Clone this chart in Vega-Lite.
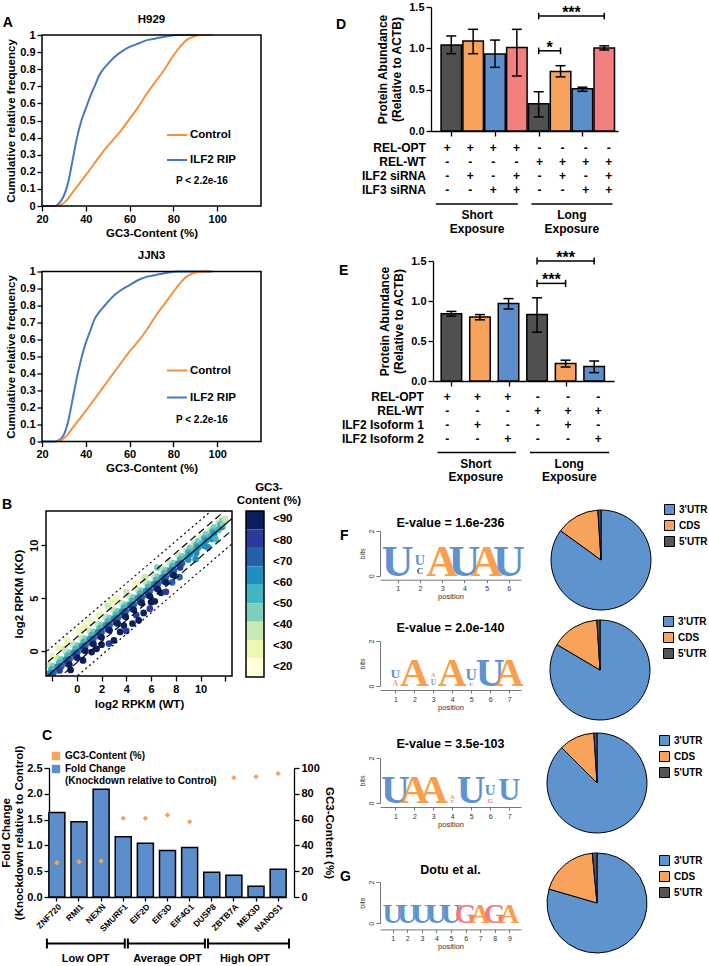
{
"$schema": "https://vega.github.io/schema/vega-lite/v6.json",
"padding": {"left": 0, "top": 1, "right": 2, "bottom": 2},
"background": "white",
"config": {
 "font": "Liberation Sans",
 "view": {"stroke": null},
 "axis": {"grid": false, "labelFlush": false, "labelOverlap": false, "labelSeparation": -200, "domainColor": "black", "tickColor": "black", "labelColor": "black", "titleColor": "black", "labelFont": "Liberation Sans", "titleFont": "Liberation Sans", "labelFontWeight": "bold", "titleFontWeight": "bold", "labelFontSize": 11, "titleFontSize": 11.5, "domainWidth": 1.3, "tickWidth": 1.3, "tickSize": 5},
 "axisX": {"labelOverlap": false, "labelSeparation": -200},
 "axisY": {"labelOverlap": false, "labelSeparation": -200},
 "title": {"font": "Liberation Sans", "fontWeight": "bold", "color": "black"},
 "legend": {"labelFont": "Liberation Sans", "labelFontWeight": "bold", "labelColor": "black"},
 "text": {"font": "Liberation Sans", "color": "black"}
},
"datasets": {
 "cdf": [
  {"p":"H929","s":"ILF2 RIP","x":20,"y":0},{"p":"H929","s":"ILF2 RIP","x":26,"y":0},{"p":"H929","s":"ILF2 RIP","x":28,"y":0.02},{"p":"H929","s":"ILF2 RIP","x":30,"y":0.06},{"p":"H929","s":"ILF2 RIP","x":32,"y":0.14},{"p":"H929","s":"ILF2 RIP","x":34,"y":0.27},{"p":"H929","s":"ILF2 RIP","x":36,"y":0.4},{"p":"H929","s":"ILF2 RIP","x":38,"y":0.5},{"p":"H929","s":"ILF2 RIP","x":40,"y":0.57},{"p":"H929","s":"ILF2 RIP","x":42,"y":0.64},{"p":"H929","s":"ILF2 RIP","x":44,"y":0.7},{"p":"H929","s":"ILF2 RIP","x":46,"y":0.76},{"p":"H929","s":"ILF2 RIP","x":48,"y":0.8},{"p":"H929","s":"ILF2 RIP","x":50,"y":0.83},{"p":"H929","s":"ILF2 RIP","x":53,"y":0.87},{"p":"H929","s":"ILF2 RIP","x":56,"y":0.9},{"p":"H929","s":"ILF2 RIP","x":60,"y":0.93},{"p":"H929","s":"ILF2 RIP","x":64,"y":0.95},{"p":"H929","s":"ILF2 RIP","x":68,"y":0.97},{"p":"H929","s":"ILF2 RIP","x":72,"y":0.98},{"p":"H929","s":"ILF2 RIP","x":76,"y":0.99},{"p":"H929","s":"ILF2 RIP","x":82,"y":1},{"p":"H929","s":"ILF2 RIP","x":97,"y":1},
  {"p":"H929","s":"Control","x":27,"y":0},{"p":"H929","s":"Control","x":29,"y":0.01},{"p":"H929","s":"Control","x":31,"y":0.03},{"p":"H929","s":"Control","x":34,"y":0.08},{"p":"H929","s":"Control","x":37,"y":0.13},{"p":"H929","s":"Control","x":40,"y":0.18},{"p":"H929","s":"Control","x":44,"y":0.25},{"p":"H929","s":"Control","x":48,"y":0.32},{"p":"H929","s":"Control","x":52,"y":0.38},{"p":"H929","s":"Control","x":56,"y":0.44},{"p":"H929","s":"Control","x":60,"y":0.51},{"p":"H929","s":"Control","x":64,"y":0.58},{"p":"H929","s":"Control","x":68,"y":0.66},{"p":"H929","s":"Control","x":72,"y":0.73},{"p":"H929","s":"Control","x":76,"y":0.8},{"p":"H929","s":"Control","x":80,"y":0.88},{"p":"H929","s":"Control","x":83,"y":0.93},{"p":"H929","s":"Control","x":86,"y":0.97},{"p":"H929","s":"Control","x":89,"y":0.99},{"p":"H929","s":"Control","x":93,"y":1},{"p":"H929","s":"Control","x":98,"y":1},
  {"p":"JJN3","s":"ILF2 RIP","x":20,"y":0},{"p":"JJN3","s":"ILF2 RIP","x":26,"y":0},{"p":"JJN3","s":"ILF2 RIP","x":28,"y":0.01},{"p":"JJN3","s":"ILF2 RIP","x":30,"y":0.04},{"p":"JJN3","s":"ILF2 RIP","x":32,"y":0.12},{"p":"JJN3","s":"ILF2 RIP","x":34,"y":0.25},{"p":"JJN3","s":"ILF2 RIP","x":36,"y":0.38},{"p":"JJN3","s":"ILF2 RIP","x":38,"y":0.49},{"p":"JJN3","s":"ILF2 RIP","x":40,"y":0.58},{"p":"JJN3","s":"ILF2 RIP","x":42,"y":0.65},{"p":"JJN3","s":"ILF2 RIP","x":44,"y":0.72},{"p":"JJN3","s":"ILF2 RIP","x":46,"y":0.76},{"p":"JJN3","s":"ILF2 RIP","x":48,"y":0.79},{"p":"JJN3","s":"ILF2 RIP","x":50,"y":0.82},{"p":"JJN3","s":"ILF2 RIP","x":53,"y":0.86},{"p":"JJN3","s":"ILF2 RIP","x":56,"y":0.89},{"p":"JJN3","s":"ILF2 RIP","x":60,"y":0.92},{"p":"JJN3","s":"ILF2 RIP","x":64,"y":0.95},{"p":"JJN3","s":"ILF2 RIP","x":68,"y":0.97},{"p":"JJN3","s":"ILF2 RIP","x":72,"y":0.98},{"p":"JJN3","s":"ILF2 RIP","x":76,"y":0.99},{"p":"JJN3","s":"ILF2 RIP","x":82,"y":1},{"p":"JJN3","s":"ILF2 RIP","x":97,"y":1},
  {"p":"JJN3","s":"Control","x":27,"y":0},{"p":"JJN3","s":"Control","x":29,"y":0.01},{"p":"JJN3","s":"Control","x":31,"y":0.03},{"p":"JJN3","s":"Control","x":34,"y":0.08},{"p":"JJN3","s":"Control","x":37,"y":0.13},{"p":"JJN3","s":"Control","x":40,"y":0.18},{"p":"JJN3","s":"Control","x":44,"y":0.25},{"p":"JJN3","s":"Control","x":48,"y":0.32},{"p":"JJN3","s":"Control","x":52,"y":0.39},{"p":"JJN3","s":"Control","x":56,"y":0.46},{"p":"JJN3","s":"Control","x":60,"y":0.53},{"p":"JJN3","s":"Control","x":64,"y":0.59},{"p":"JJN3","s":"Control","x":68,"y":0.66},{"p":"JJN3","s":"Control","x":72,"y":0.74},{"p":"JJN3","s":"Control","x":76,"y":0.81},{"p":"JJN3","s":"Control","x":80,"y":0.88},{"p":"JJN3","s":"Control","x":83,"y":0.93},{"p":"JJN3","s":"Control","x":86,"y":0.97},{"p":"JJN3","s":"Control","x":89,"y":0.99},{"p":"JJN3","s":"Control","x":93,"y":1},{"p":"JJN3","s":"Control","x":98,"y":1}
 ],
 "scatter": [
  {"x":-2.2,"y":-1.35,"g":"<30"},{"x":-1.9,"y":-1.45,"g":"<40"},{"x":-2.05,"y":-1.75,"g":"<50"},{"x":-2.2,"y":-2.15,"g":"<60"},{"x":-1.9,"y":-2.1,"g":"<70"},{"x":-2.05,"y":-2.5,"g":"<80"},
  {"x":-1.55,"y":-0.7,"g":"<30"},{"x":-1.25,"y":-0.8,"g":"<40"},{"x":-1.4,"y":-1.1,"g":"<50"},{"x":-1.55,"y":-1.5,"g":"<60"},{"x":-1.25,"y":-1.45,"g":"<70"},{"x":-1.4,"y":-1.85,"g":"<80"},
  {"x":-0.9,"y":-0.05,"g":"<30"},{"x":-0.6,"y":-0.15,"g":"<40"},{"x":-0.75,"y":-0.45,"g":"<50"},{"x":-0.9,"y":-0.85,"g":"<60"},{"x":-0.6,"y":-0.8,"g":"<70"},{"x":-0.75,"y":-1.2,"g":"<80"},{"x":-0.6,"y":-1.3,"g":"<90"},
  {"x":-0.25,"y":0.6,"g":"<30"},{"x":0.05,"y":0.5,"g":"<40"},{"x":-0.1,"y":0.2,"g":"<50"},{"x":-0.25,"y":-0.2,"g":"<60"},{"x":0.05,"y":-0.15,"g":"<70"},{"x":-0.1,"y":-0.55,"g":"<80"},{"x":0.05,"y":-0.65,"g":"<90"},
  {"x":0.4,"y":1.25,"g":"<30"},{"x":0.7,"y":1.15,"g":"<40"},{"x":0.55,"y":0.85,"g":"<50"},{"x":0.4,"y":0.45,"g":"<60"},{"x":0.7,"y":0.5,"g":"<70"},{"x":0.55,"y":0.1,"g":"<80"},{"x":0.7,"y":0.0,"g":"<90"},
  {"x":1.05,"y":1.9,"g":"<30"},{"x":1.35,"y":1.8,"g":"<40"},{"x":1.2,"y":1.5,"g":"<50"},{"x":1.05,"y":1.1,"g":"<60"},{"x":1.35,"y":1.15,"g":"<70"},{"x":1.2,"y":0.75,"g":"<80"},{"x":1.35,"y":0.65,"g":"<90"},
  {"x":1.7,"y":2.55,"g":"<30"},{"x":2.0,"y":2.45,"g":"<40"},{"x":1.85,"y":2.15,"g":"<50"},{"x":1.7,"y":1.75,"g":"<60"},{"x":2.0,"y":1.8,"g":"<70"},{"x":1.85,"y":1.4,"g":"<80"},{"x":2.0,"y":1.3,"g":"<90"},
  {"x":2.35,"y":3.2,"g":"<30"},{"x":2.65,"y":3.1,"g":"<40"},{"x":2.5,"y":2.8,"g":"<50"},{"x":2.35,"y":2.4,"g":"<60"},{"x":2.65,"y":2.45,"g":"<70"},{"x":2.5,"y":2.05,"g":"<80"},{"x":2.65,"y":1.95,"g":"<90"},
  {"x":3.0,"y":3.85,"g":"<30"},{"x":3.3,"y":3.75,"g":"<40"},{"x":3.15,"y":3.45,"g":"<50"},{"x":3.0,"y":3.05,"g":"<60"},{"x":3.3,"y":3.1,"g":"<70"},{"x":3.15,"y":2.7,"g":"<80"},{"x":3.3,"y":2.6,"g":"<90"},
  {"x":3.65,"y":4.5,"g":"<30"},{"x":3.95,"y":4.4,"g":"<40"},{"x":3.8,"y":4.1,"g":"<50"},{"x":3.65,"y":3.7,"g":"<60"},{"x":3.95,"y":3.75,"g":"<70"},{"x":3.8,"y":3.35,"g":"<80"},{"x":3.95,"y":3.25,"g":"<90"},
  {"x":4.3,"y":5.15,"g":"<30"},{"x":4.6,"y":5.05,"g":"<40"},{"x":4.45,"y":4.75,"g":"<50"},{"x":4.3,"y":4.35,"g":"<60"},{"x":4.6,"y":4.4,"g":"<70"},{"x":4.45,"y":4.0,"g":"<80"},{"x":4.6,"y":3.9,"g":"<90"},
  {"x":4.95,"y":5.8,"g":"<30"},{"x":5.25,"y":5.7,"g":"<40"},{"x":5.1,"y":5.4,"g":"<50"},{"x":4.95,"y":5.0,"g":"<60"},{"x":5.25,"y":5.05,"g":"<70"},{"x":5.1,"y":4.65,"g":"<80"},{"x":5.25,"y":4.55,"g":"<90"},
  {"x":5.6,"y":6.45,"g":"<30"},{"x":5.9,"y":6.35,"g":"<40"},{"x":5.75,"y":6.05,"g":"<50"},{"x":5.6,"y":5.65,"g":"<60"},{"x":5.9,"y":5.7,"g":"<70"},{"x":5.75,"y":5.3,"g":"<80"},{"x":5.9,"y":5.2,"g":"<90"},
  {"x":6.25,"y":7.1,"g":"<30"},{"x":6.55,"y":7.0,"g":"<40"},{"x":6.4,"y":6.7,"g":"<50"},{"x":6.25,"y":6.3,"g":"<60"},{"x":6.55,"y":6.35,"g":"<70"},{"x":6.4,"y":5.95,"g":"<80"},{"x":6.55,"y":5.85,"g":"<90"},
  {"x":6.9,"y":7.75,"g":"<30"},{"x":7.2,"y":7.65,"g":"<40"},{"x":7.05,"y":7.35,"g":"<50"},{"x":6.9,"y":6.95,"g":"<60"},{"x":7.2,"y":7.0,"g":"<70"},{"x":7.05,"y":6.6,"g":"<80"},{"x":7.2,"y":6.5,"g":"<90"},
  {"x":7.55,"y":8.4,"g":"<30"},{"x":7.85,"y":8.3,"g":"<40"},{"x":7.7,"y":8.0,"g":"<50"},{"x":7.55,"y":7.6,"g":"<60"},{"x":7.85,"y":7.65,"g":"<70"},{"x":7.7,"y":7.25,"g":"<80"},{"x":7.85,"y":7.15,"g":"<90"},
  {"x":8.2,"y":9.05,"g":"<30"},{"x":8.5,"y":8.95,"g":"<40"},{"x":8.35,"y":8.65,"g":"<50"},{"x":8.2,"y":8.25,"g":"<60"},{"x":8.5,"y":8.3,"g":"<70"},{"x":8.35,"y":7.9,"g":"<80"},
  {"x":8.85,"y":9.5,"g":"<30"},{"x":9.15,"y":9.75,"g":"<40"},{"x":9.0,"y":9.35,"g":"<50"},{"x":8.85,"y":8.85,"g":"<50"},{"x":9.15,"y":9.15,"g":"<60"},{"x":9.0,"y":8.65,"g":"<60"},
  {"x":9.5,"y":10.15,"g":"<30"},{"x":9.8,"y":10.4,"g":"<40"},{"x":9.65,"y":10.0,"g":"<50"},{"x":9.5,"y":9.5,"g":"<50"},{"x":9.8,"y":9.8,"g":"<60"},{"x":9.65,"y":9.3,"g":"<60"},
  {"x":10.15,"y":10.8,"g":"<30"},{"x":10.45,"y":11.05,"g":"<40"},{"x":10.3,"y":10.65,"g":"<50"},{"x":10.15,"y":10.15,"g":"<50"},{"x":10.45,"y":10.45,"g":"<60"},{"x":10.3,"y":9.95,"g":"<60"},
  {"x":10.8,"y":11.45,"g":"<30"},{"x":11.1,"y":11.7,"g":"<40"},{"x":10.95,"y":11.3,"g":"<50"},{"x":10.8,"y":10.8,"g":"<50"},{"x":11.1,"y":11.1,"g":"<60"},{"x":10.95,"y":10.6,"g":"<60"},
  {"x":11.45,"y":12.1,"g":"<30"},{"x":11.75,"y":12.35,"g":"<40"},{"x":11.6,"y":11.95,"g":"<50"},{"x":11.45,"y":11.45,"g":"<50"},{"x":11.75,"y":11.75,"g":"<60"},
  {"x":-2.0,"y":-0.5,"g":"<20"},{"x":-1.5,"y":0.3,"g":"<20"},{"x":-1.0,"y":0.2,"g":"<30"},{"x":-0.8,"y":1.0,"g":"<20"},{"x":0.2,"y":1.9,"g":"<20"},{"x":0.6,"y":2.3,"g":"<20"},{"x":1.0,"y":2.9,"g":"<20"},{"x":1.8,"y":3.4,"g":"<20"},{"x":2.5,"y":4.3,"g":"<30"},{"x":2.8,"y":4.6,"g":"<20"},{"x":3.2,"y":5.0,"g":"<20"},{"x":4.0,"y":5.6,"g":"<30"},{"x":4.8,"y":6.4,"g":"<20"},{"x":5.5,"y":7.0,"g":"<30"},{"x":6.5,"y":7.9,"g":"<40"},
  {"x":-0.5,"y":-1.8,"g":"<90"},{"x":0.5,"y":-0.9,"g":"<90"},{"x":1.2,"y":-0.1,"g":"<90"},{"x":1.6,"y":0.2,"g":"<90"},{"x":2.0,"y":0.6,"g":"<90"},{"x":2.6,"y":0.7,"g":"<80"},{"x":3.0,"y":1.0,"g":"<90"},{"x":3.5,"y":1.8,"g":"<90"},{"x":3.8,"y":2.4,"g":"<90"},{"x":4.0,"y":1.9,"g":"<80"},{"x":4.5,"y":2.6,"g":"<90"},{"x":4.8,"y":3.4,"g":"<80"},{"x":5.0,"y":2.9,"g":"<90"},{"x":5.4,"y":3.6,"g":"<90"},{"x":5.9,"y":4.0,"g":"<80"},{"x":6.0,"y":4.6,"g":"<90"},{"x":6.3,"y":4.7,"g":"<90"},{"x":6.8,"y":5.5,"g":"<90"},{"x":7.2,"y":5.6,"g":"<80"},{"x":7.7,"y":6.5,"g":"<70"},{"x":8.3,"y":7.0,"g":"<70"},
  {"x":9.6,"y":8.7,"g":"<60"},{"x":10.6,"y":9.8,"g":"<60"},{"x":11.2,"y":10.6,"g":"<50"},{"x":11.8,"y":12.0,"g":"<40"},{"x":12.0,"y":12.5,"g":"<30"}
 ],
 "blines": [
  {"t":"solid","x":-3,"y":-3,"x2":14,"y2":14},
  {"t":"dash","x":-3,"y":-1.7,"x2":14,"y2":15.3},
  {"t":"dash","x":-3,"y":-4.1,"x2":14,"y2":12.9},
  {"t":"dot","x":-3,"y":-0.6,"x2":14,"y2":16.4},
  {"t":"dot","x":-3,"y":-5.4,"x2":14,"y2":11.6}
 ],
 "cbar": [
  {"k":"k1","lo":0,"hi":1},{"k":"k2","lo":1,"hi":2},{"k":"k3","lo":2,"hi":3},{"k":"k4","lo":3,"hi":4},{"k":"k5","lo":4,"hi":5},{"k":"k6","lo":5,"hi":6},{"k":"k7","lo":6,"hi":7},{"k":"k8","lo":7,"hi":8},{"k":"k9","lo":8,"hi":9}
 ],
 "cbarlab": [
  {"p":0.45,"t":"<90"},{"p":1.6,"t":"<80"},{"p":2.74,"t":"<70"},{"p":3.88,"t":"<60"},{"p":5.03,"t":"<50"},{"p":6.17,"t":"<40"},{"p":7.31,"t":"<30"},{"p":8.46,"t":"<20"}
 ],
 "cgenes": [
  {"gene":"ZNF720","fc":1.64,"gc":26.5},{"gene":"RMI1","fc":1.46,"gc":27.3},{"gene":"NEXN","fc":2.09,"gc":28},{"gene":"SMURF1","fc":1.17,"gc":61},{"gene":"EIF2D","fc":1.04,"gc":61},{"gene":"EIF3D","fc":0.9,"gc":63.6},{"gene":"EIF4G1","fc":0.96,"gc":58.4},{"gene":"DUSP8","fc":0.48,"gc":90},{"gene":"ZBTB7A","fc":0.42,"gc":92.5},{"gene":"MEX3D","fc":0.21,"gc":93.2},{"gene":"NANOS1","fc":0.54,"gc":95.8}
 ],
 "D": [
  {"i":0,"v":1.04,"lo":0.935,"hi":1.15,"c":"gray"},{"i":1,"v":1.09,"lo":0.935,"hi":1.23,"c":"orange"},{"i":2,"v":0.93,"lo":0.77,"hi":1.1,"c":"blue"},{"i":3,"v":1.01,"lo":0.665,"hi":1.23,"c":"pink"},{"i":4,"v":0.33,"lo":0.17,"hi":0.475,"c":"gray"},{"i":5,"v":0.72,"lo":0.655,"hi":0.79,"c":"orange"},{"i":6,"v":0.51,"lo":0.48,"hi":0.53,"c":"blue"},{"i":7,"v":1.005,"lo":0.98,"hi":1.03,"c":"pink"}
 ],
 "Dsig": [{"a":4,"b":7,"m":5.5,"y":1.39,"t":"***"},{"a":4,"b":5,"m":4.5,"y":0.97,"t":"*"}],
 "Dcaps": [{"x":4,"lo":1.35,"hi":1.43},{"x":7,"lo":1.35,"hi":1.43},{"x":4,"lo":0.93,"hi":1.01},{"x":5,"lo":0.93,"hi":1.01}],
 "Dtab": [
  {"i":0,"r":0,"s":"+"},{"i":1,"r":0,"s":"+"},{"i":2,"r":0,"s":"+"},{"i":3,"r":0,"s":"+"},{"i":4,"r":0,"s":"-"},{"i":5,"r":0,"s":"-"},{"i":6,"r":0,"s":"-"},{"i":7,"r":0,"s":"-"},
  {"i":0,"r":1,"s":"-"},{"i":1,"r":1,"s":"-"},{"i":2,"r":1,"s":"-"},{"i":3,"r":1,"s":"-"},{"i":4,"r":1,"s":"+"},{"i":5,"r":1,"s":"+"},{"i":6,"r":1,"s":"+"},{"i":7,"r":1,"s":"+"},
  {"i":0,"r":2,"s":"-"},{"i":1,"r":2,"s":"+"},{"i":2,"r":2,"s":"-"},{"i":3,"r":2,"s":"+"},{"i":4,"r":2,"s":"-"},{"i":5,"r":2,"s":"+"},{"i":6,"r":2,"s":"-"},{"i":7,"r":2,"s":"+"},
  {"i":0,"r":3,"s":"-"},{"i":1,"r":3,"s":"-"},{"i":2,"r":3,"s":"+"},{"i":3,"r":3,"s":"+"},{"i":4,"r":3,"s":"-"},{"i":5,"r":3,"s":"-"},{"i":6,"r":3,"s":"+"},{"i":7,"r":3,"s":"+"}
 ],
 "Drows": [{"r":0,"name":"REL-OPT"},{"r":1,"name":"REL-WT"},{"r":2,"name":"ILF2 siRNA"},{"r":3,"name":"ILF3 siRNA"}],
 "Dexp": [{"a":-0.49,"b":3.06},{"a":3.65,"b":7.16}],
 "Dexpt": [{"x":1.3,"r":4.8,"t":"Short"},{"x":1.3,"r":5.75,"t":"Exposure"},{"x":5.4,"r":4.8,"t":"Long"},{"x":5.4,"r":5.75,"t":"Exposure"}],
 "E": [
  {"i":0,"v":0.84,"lo":0.81,"hi":0.87,"c":"gray"},{"i":1,"v":0.8,"lo":0.765,"hi":0.83,"c":"orange"},{"i":2,"v":0.97,"lo":0.9,"hi":1.03,"c":"blue"},{"i":3,"v":0.83,"lo":0.61,"hi":1.04,"c":"gray"},{"i":4,"v":0.22,"lo":0.175,"hi":0.26,"c":"orange"},{"i":5,"v":0.18,"lo":0.105,"hi":0.25,"c":"blue"}
 ],
 "Esig": [{"a":3,"b":5,"m":4,"y":1.5,"t":"***"},{"a":3,"b":4,"m":3.5,"y":1.22,"t":"***"}],
 "Ecaps": [{"x":3,"lo":1.455,"hi":1.545},{"x":5,"lo":1.455,"hi":1.545},{"x":3,"lo":1.175,"hi":1.265},{"x":4,"lo":1.175,"hi":1.265}],
 "Etab": [
  {"i":0,"r":0,"s":"+"},{"i":1,"r":0,"s":"+"},{"i":2,"r":0,"s":"+"},{"i":3,"r":0,"s":"-"},{"i":4,"r":0,"s":"-"},{"i":5,"r":0,"s":"-"},
  {"i":0,"r":1,"s":"-"},{"i":1,"r":1,"s":"-"},{"i":2,"r":1,"s":"-"},{"i":3,"r":1,"s":"+"},{"i":4,"r":1,"s":"+"},{"i":5,"r":1,"s":"+"},
  {"i":0,"r":2,"s":"-"},{"i":1,"r":2,"s":"+"},{"i":2,"r":2,"s":"-"},{"i":3,"r":2,"s":"-"},{"i":4,"r":2,"s":"+"},{"i":5,"r":2,"s":"-"},
  {"i":0,"r":3,"s":"-"},{"i":1,"r":3,"s":"-"},{"i":2,"r":3,"s":"+"},{"i":3,"r":3,"s":"-"},{"i":4,"r":3,"s":"-"},{"i":5,"r":3,"s":"+"}
 ],
 "Erows": [{"r":0,"name":"REL-OPT"},{"r":1,"name":"REL-WT"},{"r":2,"name":"ILF2 Isoform 1"},{"r":3,"name":"ILF2 Isoform 2"}],
 "Eexp": [{"a":-0.32,"b":2.28},{"a":2.74,"b":5.36}],
 "Eexpt": [{"x":0.95,"r":4.8,"t":"Short"},{"x":0.95,"r":5.75,"t":"Exposure"},{"x":4.04,"r":4.8,"t":"Long"},{"x":4.04,"r":5.75,"t":"Exposure"}],
 "logo": [
  {"m":"F1","pos":1,"ch":"U","base":0,"h":2},{"m":"F1","pos":2,"ch":"C","base":0.08,"h":0.4},{"m":"F1","pos":2,"ch":"U","base":0.48,"h":0.65},{"m":"F1","pos":3,"ch":"A","base":0,"h":2},{"m":"F1","pos":4,"ch":"U","base":0,"h":2},{"m":"F1","pos":5,"ch":"A","base":0,"h":2},{"m":"F1","pos":6,"ch":"U","base":0,"h":2},
  {"m":"F2","pos":1,"ch":"A","base":0,"h":0.37},{"m":"F2","pos":1,"ch":"U","base":0.37,"h":0.67},{"m":"F2","pos":2,"ch":"A","base":0,"h":2},{"m":"F2","pos":3,"ch":"U","base":0.04,"h":0.36},{"m":"F2","pos":3,"ch":"A","base":0.4,"h":0.3},{"m":"F2","pos":4,"ch":"A","base":0,"h":2},{"m":"F2","pos":5,"ch":"C","base":0,"h":0.25},{"m":"F2","pos":5,"ch":"U","base":0.25,"h":0.79},{"m":"F2","pos":6,"ch":"U","base":0,"h":2},{"m":"F2","pos":7,"ch":"A","base":0,"h":2},
  {"m":"F3","pos":1,"ch":"U","base":0,"h":2},{"m":"F3","pos":2,"ch":"A","base":0,"h":2},{"m":"F3","pos":3,"ch":"A","base":0,"h":2},{"m":"F3","pos":4,"ch":"U","base":0,"h":0.2},{"m":"F3","pos":4,"ch":"A","base":0.2,"h":0.35},{"m":"F3","pos":5,"ch":"U","base":0,"h":2},{"m":"F3","pos":6,"ch":"G","base":0,"h":0.35},{"m":"F3","pos":6,"ch":"U","base":0.35,"h":0.75},{"m":"F3","pos":7,"ch":"A","base":0,"h":0.12},{"m":"F3","pos":7,"ch":"U","base":0.12,"h":1.53},
  {"m":"G","pos":1,"ch":"U","base":0,"h":2},{"m":"G","pos":2,"ch":"U","base":0,"h":2},{"m":"G","pos":3,"ch":"U","base":0,"h":2},{"m":"G","pos":4,"ch":"U","base":0,"h":2},{"m":"G","pos":5,"ch":"U","base":0,"h":2},{"m":"G","pos":6,"ch":"G","base":0,"h":2},{"m":"G","pos":7,"ch":"A","base":0,"h":2},{"m":"G","pos":8,"ch":"G","base":0,"h":2},{"m":"G","pos":9,"ch":"A","base":0,"h":2}
 ],
 "pie": [
  {"m":"F1","r":"3'UTR","v":85,"o":1},{"m":"F1","r":"CDS","v":14,"o":2},{"m":"F1","r":"5'UTR","v":1,"o":3},
  {"m":"F2","r":"3'UTR","v":83.5,"o":1},{"m":"F2","r":"CDS","v":15.5,"o":2},{"m":"F2","r":"5'UTR","v":1,"o":3},
  {"m":"F3","r":"3'UTR","v":87.5,"o":1},{"m":"F3","r":"CDS","v":11.5,"o":2},{"m":"F3","r":"5'UTR","v":1,"o":3},
  {"m":"G","r":"3'UTR","v":79.5,"o":1},{"m":"G","r":"CDS","v":19,"o":2},{"m":"G","r":"5'UTR","v":1.5,"o":3}
 ]
},
"hconcat": [
 {
  "vconcat": [
   {"data": {"values": [{}]}, "mark": {"type": "rect", "opacity": 0}, "encoding": {"x": {"value": 0}, "x2": {"value": "width"}, "y": {"value": 0}, "y2": {"value": "height"}}, "width": 1, "height": 5.5},
   {
    "title": {"text": "A", "anchor": "start", "frame": "bounds", "fontSize": 14, "offset": -16, "dx": -3},
    "vconcat": [
     {
      "title": {"text": "H929", "fontSize": 11.5, "offset": 4},
      "width": 219, "height": 171,
      "layer": [
       {"data": {"name": "cdf"}, "transform": [{"filter": "datum.p == 'H929'"}],
        "mark": {"type": "line", "strokeWidth": 2, "interpolate": "monotone"},
        "encoding": {
         "x": {"field": "x", "type": "quantitative", "scale": {"domain": [20, 120], "nice": false, "zero": false}, "axis": {"values": [20, 40, 60, 80, 100], "tickCount": 6, "title": "GC3-Content (%)", "domain": false, "titlePadding": 3, "labelOverlap": false, "labelSeparation": -200}},
         "y": {"field": "y", "type": "quantitative", "scale": {"domain": [0, 1], "nice": false}, "axis": {"values": [0, 0.1, 0.2, 0.3, 0.4, 0.5, 0.6, 0.7, 0.8, 0.9, 1], "tickCount": 11, "format": "~g", "title": "Cumulative relative frequency", "domain": false, "titlePadding": 3, "labelOverlap": false, "labelSeparation": -200}},
         "color": {"field": "s", "type": "nominal", "scale": {"domain": ["Control", "ILF2 RIP"], "range": ["#f4923f", "#4a78bf"]}, "legend": {"title": null, "orient": "none", "legendX": 124, "legendY": 89, "symbolType": "stroke", "symbolStrokeWidth": 2, "symbolSize": 400, "labelFontSize": 11.5, "rowPadding": 8, "labelOffset": 2}}
        }},
       {"data": {"values": [{"x": 93, "y": 0.145, "t": "P < 2.2e-16"}]},
        "mark": {"type": "text", "fontSize": 10, "fontWeight": "bold"},
        "encoding": {"x": {"field": "x", "type": "quantitative"}, "y": {"field": "y", "type": "quantitative"}, "text": {"field": "t"}}},
       {"data": {"values": [{}]}, "mark": {"type": "rect", "fillOpacity": 0, "stroke": "black", "strokeWidth": 1.5},
        "encoding": {"x": {"datum": 20, "type": "quantitative"}, "x2": {"datum": 120}, "y": {"datum": 0, "type": "quantitative"}, "y2": {"datum": 1}}}
      ]
     },
     {
      "title": {"text": "JJN3", "fontSize": 11.5, "offset": 4},
      "width": 219, "height": 170,
      "layer": [
       {"data": {"name": "cdf"}, "transform": [{"filter": "datum.p == 'JJN3'"}],
        "mark": {"type": "line", "strokeWidth": 2, "interpolate": "monotone"},
        "encoding": {
         "x": {"field": "x", "type": "quantitative", "scale": {"domain": [20, 120], "nice": false, "zero": false}, "axis": {"values": [20, 40, 60, 80, 100], "tickCount": 6, "title": "GC3-Content (%)", "domain": false, "titlePadding": 3, "labelOverlap": false, "labelSeparation": -200}},
         "y": {"field": "y", "type": "quantitative", "scale": {"domain": [0, 1], "nice": false}, "axis": {"values": [0, 0.1, 0.2, 0.3, 0.4, 0.5, 0.6, 0.7, 0.8, 0.9, 1], "tickCount": 11, "format": "~g", "title": "Cumulative relative frequency", "domain": false, "titlePadding": 3, "labelOverlap": false, "labelSeparation": -200}},
         "color": {"field": "s", "type": "nominal", "scale": {"domain": ["Control", "ILF2 RIP"], "range": ["#f4923f", "#4a78bf"]}, "legend": {"title": null, "orient": "none", "legendX": 124, "legendY": 88, "symbolType": "stroke", "symbolStrokeWidth": 2, "symbolSize": 400, "labelFontSize": 11.5, "rowPadding": 10, "labelOffset": 2}}
        }},
       {"data": {"values": [{"x": 93, "y": 0.126, "t": "P < 2.2e-16"}]},
        "mark": {"type": "text", "fontSize": 10, "fontWeight": "bold"},
        "encoding": {"x": {"field": "x", "type": "quantitative"}, "y": {"field": "y", "type": "quantitative"}, "text": {"field": "t"}}},
       {"data": {"values": [{}]}, "mark": {"type": "rect", "fillOpacity": 0, "stroke": "black", "strokeWidth": 1.5},
        "encoding": {"x": {"datum": 20, "type": "quantitative"}, "x2": {"datum": 120}, "y": {"datum": 0, "type": "quantitative"}, "y2": {"datum": 1}}}
      ]
     }
    ],
    "spacing": 10.5,
    "resolve": {"scale": {"color": "independent", "size": "independent", "strokeDash": "independent"}, "legend": {"color": "independent", "size": "independent", "strokeDash": "independent"}}
   },
   {"data": {"values": [{}]}, "mark": {"type": "rect", "opacity": 0}, "encoding": {"x": {"value": 0}, "x2": {"value": "width"}, "y": {"value": 0}, "y2": {"value": "height"}}, "width": 1, "height": 6.5},
   {
    "title": {"text": "B", "anchor": "start", "frame": "bounds", "fontSize": 14, "offset": -30, "dx": -11},
    "hconcat": [
     {"data": {"values": []}, "mark": "point", "width": 3.7, "height": 1},
     {
      "width": 186, "height": 165,
      "layer": [
       {"data": {"name": "scatter"}, "mark": {"type": "circle", "size": 45, "opacity": 1, "clip": true},
        "encoding": {
         "x": {"field": "x", "type": "quantitative", "scale": {"domain": [-2.49, 12.54], "nice": false, "zero": false}, "axis": {"values": [-2, 0, 2, 4, 6, 8, 10, 12], "tickCount": 8, "labelExpr": "datum.value < 0 || datum.value > 10 ? '' : datum.label", "title": "log2 RPKM (WT)", "domain": false, "labelOverlap": false, "labelSeparation": -200}},
         "y": {"field": "y", "type": "quantitative", "scale": {"domain": [-2.37, 13.25], "nice": false, "zero": false}, "axis": {"values": [0, 5, 10], "labelAngle": -90, "title": "log2 RPKM (KO)", "domain": false, "labelOverlap": false, "labelSeparation": -200}},
         "color": {"field": "g", "type": "nominal", "scale": {"domain": ["<90", "<80", "<70", "<60", "<50", "<40", "<30", "<20"], "range": ["#0b1f5c", "#2a3b9c", "#2461a8", "#1f8fc0", "#41b5c4", "#7fcdbb", "#c7e9b4", "#edf8b1"]}, "legend": null}
        }},
       {"data": {"name": "blines"}, "mark": {"type": "rule", "clip": true, "color": "black", "strokeWidth": 1.2},
        "encoding": {
         "x": {"field": "x", "type": "quantitative"}, "y": {"field": "y", "type": "quantitative"}, "x2": {"field": "x2"}, "y2": {"field": "y2"},
         "strokeDash": {"field": "t", "type": "nominal", "scale": {"domain": ["solid", "dash", "dot"], "range": [[1, 0], [7, 4], [2, 3]]}, "legend": null}
        }},
       {"data": {"values": [{}]}, "mark": {"type": "rect", "fillOpacity": 0, "stroke": "black", "strokeWidth": 1.5},
        "encoding": {"x": {"datum": -2.49, "type": "quantitative"}, "x2": {"datum": 12.54}, "y": {"datum": -2.37, "type": "quantitative"}, "y2": {"datum": 13.25}}}
      ]
     },
     {"data": {"values": []}, "mark": "point", "width": 13.3, "height": 1},
     {
      "title": {"text": ["GC3-", "Content (%)"], "fontSize": 11.5, "offset": 4, "anchor": "middle", "frame": "bounds", "lineHeight": 13},
      "width": 18, "height": 166,
      "layer": [
       {"data": {"name": "cbar"}, "mark": {"type": "rect"},
        "encoding": {
         "x": {"datum": 0, "type": "quantitative", "scale": {"domain": [0, 1], "nice": false}, "axis": null},
         "x2": {"datum": 1},
         "y": {"field": "lo", "type": "quantitative", "scale": {"domain": [0, 9], "reverse": true, "nice": false, "zero": false}, "axis": null},
         "y2": {"field": "hi"},
         "color": {"field": "k", "type": "nominal", "scale": {"domain": ["k1", "k2", "k3", "k4", "k5", "k6", "k7", "k8", "k9"], "range": ["#0b1f5c", "#2a3b9c", "#2461a8", "#1f8fc0", "#41b5c4", "#7fcdbb", "#c7e9b4", "#edf8b1", "#ffffd9"]}, "legend": null}
        }},
       {"data": {"name": "cbarlab"}, "mark": {"type": "text", "align": "left", "fontSize": 11.5, "fontWeight": "bold", "dx": 9},
        "encoding": {"x": {"datum": 1, "type": "quantitative", "axis": null}, "y": {"field": "p", "type": "quantitative", "axis": null}, "text": {"field": "t"}}},
       {"data": {"values": [{}]}, "mark": {"type": "rect", "fillOpacity": 0, "stroke": "black", "strokeWidth": 1.5},
        "encoding": {"x": {"datum": 0, "type": "quantitative", "axis": null}, "x2": {"datum": 1}, "y": {"datum": 0, "type": "quantitative", "axis": null}, "y2": {"datum": 9}}}
      ]
     }
    ],
    "spacing": 0, "bounds": "flush",
    "resolve": {"scale": {"color": "independent", "size": "independent", "strokeDash": "independent"}, "legend": {"color": "independent", "size": "independent", "strokeDash": "independent"}}
   },
   {"data": {"values": [{}]}, "mark": {"type": "rect", "opacity": 0}, "encoding": {"x": {"value": 0}, "x2": {"value": "width"}, "y": {"value": 0}, "y2": {"value": "height"}}, "width": 1, "height": 16, "title": {"text": "C", "orient": "bottom", "anchor": "start", "frame": "group", "fontSize": 14, "offset": 3}},
   {"data": {"values": [{}]}, "mark": {"type": "rect", "opacity": 0}, "encoding": {"x": {"value": 0}, "x2": {"value": "width"}, "y": {"value": 0}, "y2": {"value": "height"}}, "width": 1, "height": 2},
   {
    "vconcat": [
     {"hconcat": [
       {"data": {"values": []}, "mark": "point", "width": 7, "height": 1},
       {
        "width": 245, "height": 129,
        "data": {"name": "cgenes"},
        "layer": [
         {"mark": {"type": "bar", "stroke": "black", "strokeWidth": 1.5, "width": 16},
          "encoding": {
           "x": {"field": "gene", "type": "nominal", "sort": null, "scale": {"range": [0, 237], "paddingInner": 0.29, "paddingOuter": 0}, "axis": {"title": null, "labelAngle": -45, "labelFontSize": 8.5, "labelPadding": 1, "tickSize": 4, "labelOverlap": false}},
           "y": {"field": "fc", "type": "quantitative", "scale": {"domain": [0, 2.5], "nice": false}, "axis": {"values": [0, 0.5, 1, 1.5, 2, 2.5], "format": ".1f", "title": ["Fold Change", "(Knockdown relative to Control)"], "titlePadding": 2, "labelOverlap": false}},
           "color": {"datum": "Fold Change", "type": "nominal", "scale": {"domain": ["GC3-Content (%)", "Fold Change"], "range": ["#f7a35c", "#5b8ecb"]}, "legend": {"title": null, "orient": "none", "legendX": 2, "legendY": -17, "symbolType": "square", "symbolSize": 70, "symbolStrokeWidth": 0, "labelFontSize": 10, "rowPadding": 3, "labelExpr": "datum.label == 'Fold Change' ? ['Fold Change', '(Knockdown relative to Control)'] : datum.label"}}
          }},
         {"mark": {"type": "point", "shape": "diamond", "filled": true, "size": 30, "opacity": 1},
          "encoding": {
           "x": {"field": "gene", "type": "nominal", "sort": null},
           "y": {"field": "gc", "type": "quantitative", "scale": {"domain": [0, 100], "nice": false}, "axis": {"orient": "right", "values": [0, 20, 40, 60, 80, 100], "title": "GC3-Content (%)", "labelOverlap": false}},
           "color": {"datum": "GC3-Content (%)", "type": "nominal"}
          }}
        ],
        "resolve": {"scale": {"y": "independent"}}
       }
      ], "spacing": 0, "bounds": "flush",
      "resolve": {"scale": {"color": "independent", "size": "independent", "strokeDash": "independent"}, "legend": {"color": "independent", "size": "independent", "strokeDash": "independent"}}},
     {"hconcat": [
       {"data": {"values": []}, "mark": "point", "width": 7, "height": 1},
       {
        "width": 245, "height": 30,
        "layer": [
         {"data": {"values": [{"a": -0.45, "b": 3.07}, {"a": 3.21, "b": 6.69}, {"a": 6.83, "b": 10.49}]},
          "mark": {"type": "rule", "strokeWidth": 2, "color": "black"},
          "encoding": {"x": {"field": "a", "type": "quantitative", "scale": {"domain": [-0.355, 10.716], "nice": false, "zero": false}, "axis": null}, "x2": {"field": "b"}, "y": {"datum": 0, "type": "quantitative", "scale": {"domain": [-0.5, 1.5], "reverse": true, "nice": false, "zero": false}, "axis": null}}},
         {"data": {"values": [{"x": -0.45}, {"x": 3.07}, {"x": 3.21}, {"x": 6.69}, {"x": 6.83}, {"x": 10.49}]},
          "mark": {"type": "rule", "strokeWidth": 2, "color": "black"},
          "encoding": {"x": {"field": "x", "type": "quantitative", "axis": null}, "y": {"datum": -0.33, "type": "quantitative", "axis": null}, "y2": {"datum": 0.33}}},
         {"data": {"values": [{"x": 1.3, "t": "Low OPT"}, {"x": 5.0, "t": "Average OPT"}, {"x": 8.5, "t": "High OPT"}]},
          "mark": {"type": "text", "fontSize": 11, "fontWeight": "bold"},
          "encoding": {"x": {"field": "x", "type": "quantitative", "axis": null}, "y": {"datum": 1, "type": "quantitative", "axis": null}, "text": {"field": "t"}}}
        ]
       }
      ], "spacing": 0, "bounds": "flush"}
    ],
    "spacing": 2,
    "resolve": {"scale": {"color": "independent", "size": "independent", "strokeDash": "independent"}, "legend": {"color": "independent", "size": "independent", "strokeDash": "independent"}}
   }
  ],
  "spacing": 0,
  "resolve": {"scale": {"color": "independent", "size": "independent", "strokeDash": "independent"}, "legend": {"color": "independent", "size": "independent", "strokeDash": "independent"}}
 },
 {
  "vconcat": [
   {
    "title": {"text": "D", "anchor": "start", "frame": "bounds", "fontSize": 14, "offset": -31, "dx": -26},
    "vconcat": [
     {"hconcat": [
       {"data": {"values": []}, "mark": "point", "width": 51, "height": 1},
       {
        "width": 187, "height": 124,
        "layer": [
         {"data": {"name": "D"}, "mark": {"type": "bar", "width": 20.5, "stroke": "black", "strokeWidth": 1.5},
          "encoding": {
           "x": {"field": "i", "type": "quantitative", "scale": {"domain": [-0.7, 7.4], "nice": false, "zero": false}, "axis": {"values": [0, 1, 2, 3, 4, 5, 6, 7], "labels": false, "title": null}},
           "y": {"field": "v", "type": "quantitative", "scale": {"domain": [0, 1.5], "nice": false}, "axis": {"values": [0, 0.5, 1, 1.5], "tickCount": 4, "format": ".1f", "title": ["Protein Abundance", "(Relative to ACTB)"], "titleFontSize": 12, "titlePadding": 5, "labelOverlap": false, "labelSeparation": -200}},
           "color": {"field": "c", "type": "nominal", "scale": {"domain": ["gray", "orange", "blue", "pink"], "range": ["#505050", "#f7a35c", "#5b8ecb", "#f47f7f"]}, "legend": null}
          }},
         {"data": {"name": "D"}, "mark": {"type": "rule", "color": "black", "strokeWidth": 1.5}, "encoding": {"x": {"field": "i", "type": "quantitative"}, "y": {"field": "lo", "type": "quantitative"}, "y2": {"field": "hi"}}},
         {"data": {"name": "D"}, "mark": {"type": "tick", "orient": "horizontal", "size": 10, "thickness": 1.5, "color": "black", "opacity": 1}, "encoding": {"x": {"field": "i", "type": "quantitative"}, "y": {"field": "lo", "type": "quantitative"}}},
         {"data": {"name": "D"}, "mark": {"type": "tick", "orient": "horizontal", "size": 10, "thickness": 1.5, "color": "black", "opacity": 1}, "encoding": {"x": {"field": "i", "type": "quantitative"}, "y": {"field": "hi", "type": "quantitative"}}},
         {"data": {"name": "Dsig"}, "mark": {"type": "rule", "color": "black", "strokeWidth": 1.5}, "encoding": {"x": {"field": "a", "type": "quantitative"}, "x2": {"field": "b"}, "y": {"field": "y", "type": "quantitative"}}},
         {"data": {"name": "Dcaps"}, "mark": {"type": "rule", "color": "black", "strokeWidth": 1.5}, "encoding": {"x": {"field": "x", "type": "quantitative"}, "y": {"field": "lo", "type": "quantitative"}, "y2": {"field": "hi"}}},
         {"data": {"name": "Dsig"}, "mark": {"type": "text", "fontSize": 16, "fontWeight": "bold", "baseline": "alphabetic", "dy": 2}, "encoding": {"x": {"field": "m", "type": "quantitative"}, "y": {"field": "y", "type": "quantitative"}, "text": {"field": "t"}}}
        ]
       }
      ], "spacing": 0, "bounds": "flush",
      "resolve": {"scale": {"color": "independent", "size": "independent", "strokeDash": "independent"}, "legend": {"color": "independent", "size": "independent", "strokeDash": "independent"}}},
     {"hconcat": [
       {"data": {"values": []}, "mark": "point", "width": 51, "height": 1},
       {
        "width": 187, "height": 95.2,
        "layer": [
         {"data": {"name": "Dtab"}, "mark": {"type": "text", "fontSize": 12, "fontWeight": "bold"},
          "encoding": {"x": {"field": "i", "type": "quantitative", "scale": {"domain": [-0.7, 7.4], "nice": false, "zero": false}, "axis": null}, "y": {"field": "r", "type": "quantitative", "scale": {"domain": [-0.5, 6.3], "reverse": true, "nice": false, "zero": false}, "axis": null}, "text": {"field": "s"}}},
         {"data": {"name": "Drows"}, "mark": {"type": "text", "fontSize": 12, "fontWeight": "bold", "align": "right"},
          "encoding": {"x": {"datum": -0.92, "type": "quantitative", "axis": null}, "y": {"field": "r", "type": "quantitative", "axis": null}, "text": {"field": "name"}}},
         {"data": {"name": "Dexp"}, "mark": {"type": "rule", "strokeWidth": 1.5, "color": "black"},
          "encoding": {"x": {"field": "a", "type": "quantitative", "axis": null}, "x2": {"field": "b"}, "y": {"datum": 4, "type": "quantitative", "axis": null}}},
         {"data": {"name": "Dexpt"}, "mark": {"type": "text", "fontSize": 12, "fontWeight": "bold"},
          "encoding": {"x": {"field": "x", "type": "quantitative", "axis": null}, "y": {"field": "r", "type": "quantitative", "axis": null}, "text": {"field": "t"}}}
        ]
       }
      ], "spacing": 0, "bounds": "flush"}
    ],
    "spacing": 4,
    "resolve": {"scale": {"color": "independent", "size": "independent", "strokeDash": "independent"}, "legend": {"color": "independent", "size": "independent", "strokeDash": "independent"}}
   },
   {"data": {"values": [{}]}, "mark": {"type": "rect", "opacity": 0}, "encoding": {"x": {"value": 0}, "x2": {"value": "width"}, "y": {"value": 0}, "y2": {"value": "height"}}, "width": 1, "height": 13},
   {
    "title": {"text": "E", "anchor": "start", "frame": "bounds", "fontSize": 14, "offset": -28, "dx": -3},
    "vconcat": [
     {"hconcat": [
       {"data": {"values": []}, "mark": "point", "width": 53, "height": 1},
       {
        "width": 181, "height": 120,
        "layer": [
         {"data": {"name": "E"}, "mark": {"type": "bar", "width": 20.5, "stroke": "black", "strokeWidth": 1.5},
          "encoding": {
           "x": {"field": "i", "type": "quantitative", "scale": {"domain": [-0.47, 5.52], "nice": false, "zero": false}, "axis": {"values": [0, 1, 2, 3, 4, 5], "labels": false, "title": null}},
           "y": {"field": "v", "type": "quantitative", "scale": {"domain": [0, 1.5], "nice": false}, "axis": {"values": [0, 0.5, 1, 1.5], "tickCount": 4, "format": ".1f", "title": ["Protein Abundance", "(Relative to ACTB)"], "titleFontSize": 12, "titlePadding": 5, "labelOverlap": false, "labelSeparation": -200}},
           "color": {"field": "c", "type": "nominal", "scale": {"domain": ["gray", "orange", "blue", "pink"], "range": ["#505050", "#f7a35c", "#5b8ecb", "#f47f7f"]}, "legend": null}
          }},
         {"data": {"name": "E"}, "mark": {"type": "rule", "color": "black", "strokeWidth": 1.5}, "encoding": {"x": {"field": "i", "type": "quantitative"}, "y": {"field": "lo", "type": "quantitative"}, "y2": {"field": "hi"}}},
         {"data": {"name": "E"}, "mark": {"type": "tick", "orient": "horizontal", "size": 10, "thickness": 1.5, "color": "black", "opacity": 1}, "encoding": {"x": {"field": "i", "type": "quantitative"}, "y": {"field": "lo", "type": "quantitative"}}},
         {"data": {"name": "E"}, "mark": {"type": "tick", "orient": "horizontal", "size": 10, "thickness": 1.5, "color": "black", "opacity": 1}, "encoding": {"x": {"field": "i", "type": "quantitative"}, "y": {"field": "hi", "type": "quantitative"}}},
         {"data": {"name": "Esig"}, "mark": {"type": "rule", "color": "black", "strokeWidth": 1.5}, "encoding": {"x": {"field": "a", "type": "quantitative"}, "x2": {"field": "b"}, "y": {"field": "y", "type": "quantitative"}}},
         {"data": {"name": "Ecaps"}, "mark": {"type": "rule", "color": "black", "strokeWidth": 1.5}, "encoding": {"x": {"field": "x", "type": "quantitative"}, "y": {"field": "lo", "type": "quantitative"}, "y2": {"field": "hi"}}},
         {"data": {"name": "Esig"}, "mark": {"type": "text", "fontSize": 16, "fontWeight": "bold", "baseline": "alphabetic", "dy": 2}, "encoding": {"x": {"field": "m", "type": "quantitative"}, "y": {"field": "y", "type": "quantitative"}, "text": {"field": "t"}}}
        ]
       }
      ], "spacing": 0, "bounds": "flush",
      "resolve": {"scale": {"color": "independent", "size": "independent", "strokeDash": "independent"}, "legend": {"color": "independent", "size": "independent", "strokeDash": "independent"}}},
     {"hconcat": [
       {"data": {"values": []}, "mark": "point", "width": 53, "height": 1},
       {
        "width": 181, "height": 94.5,
        "layer": [
         {"data": {"name": "Etab"}, "mark": {"type": "text", "fontSize": 12, "fontWeight": "bold"},
          "encoding": {"x": {"field": "i", "type": "quantitative", "scale": {"domain": [-0.47, 5.52], "nice": false, "zero": false}, "axis": null}, "y": {"field": "r", "type": "quantitative", "scale": {"domain": [-0.5, 6.3], "reverse": true, "nice": false, "zero": false}, "axis": null}, "text": {"field": "s"}}},
         {"data": {"name": "Erows"}, "mark": {"type": "text", "fontSize": 12, "fontWeight": "bold", "align": "right"},
          "encoding": {"x": {"datum": -0.77, "type": "quantitative", "axis": null}, "y": {"field": "r", "type": "quantitative", "axis": null}, "text": {"field": "name"}}},
         {"data": {"name": "Eexp"}, "mark": {"type": "rule", "strokeWidth": 1.5, "color": "black"},
          "encoding": {"x": {"field": "a", "type": "quantitative", "axis": null}, "x2": {"field": "b"}, "y": {"datum": 4, "type": "quantitative", "axis": null}}},
         {"data": {"name": "Eexpt"}, "mark": {"type": "text", "fontSize": 12, "fontWeight": "bold"},
          "encoding": {"x": {"field": "x", "type": "quantitative", "axis": null}, "y": {"field": "r", "type": "quantitative", "axis": null}, "text": {"field": "t"}}}
        ]
       }
      ], "spacing": 0, "bounds": "flush"}
    ],
    "spacing": 3,
    "resolve": {"scale": {"color": "independent", "size": "independent", "strokeDash": "independent"}, "legend": {"color": "independent", "size": "independent", "strokeDash": "independent"}}
   },
   {"data": {"values": [{}]}, "mark": {"type": "rect", "opacity": 0}, "encoding": {"x": {"value": 0}, "x2": {"value": "width"}, "y": {"value": 0}, "y2": {"value": "height"}}, "width": 1, "height": 16},
   {
    "title": {"text": "F", "anchor": "start", "frame": "bounds", "fontSize": 14, "offset": -42, "dx": -18},
    "hconcat": [
     {"vconcat": [
       {"data": {"values": [{}]}, "mark": {"type": "rect", "opacity": 0}, "encoding": {"x": {"value": 0}, "x2": {"value": "width"}, "y": {"value": 0}, "y2": {"value": "height"}}, "width": 1, "height": 14.5},
       {
        "title": {"text": "E-value = 1.6e-236", "fontSize": 12.5, "offset": 0},
        "width": 141, "height": 44.7,
        "data": {"name": "logo"},
        "transform": [{"filter": "datum.m == 'F1'"}],
        "mark": {"type": "text", "font": "Liberation Sans Narrow", "fontWeight": "bold", "baseline": "alphabetic", "align": "center"},
        "encoding": {
         "x": {"field": "pos", "type": "quantitative", "scale": {"domain": [0.2, 6.55], "nice": false, "zero": false}, "axis": {"values": [1, 2, 3, 4, 5, 6], "format": "d", "title": "position", "titleFontSize": 7.5, "titleFontWeight": "normal", "titleColor": "#333333", "titlePadding": 1, "labelFontSize": 7, "labelFontWeight": "normal", "labelColor": "#333333", "labelPadding": 2, "tickSize": 3, "tickWidth": 0.8, "domainWidth": 0.8, "domainColor": "#555555", "tickColor": "#555555", "offset": 4}},
         "y": {"field": "base", "type": "quantitative", "scale": {"domain": [0, 2], "nice": false}, "axis": {"values": [0, 0.1, 0.2, 0.3, 0.4, 0.5, 0.6, 0.7, 0.8, 0.9, 1, 1.1, 1.2, 1.3, 1.4, 1.5, 1.6, 1.7, 1.8, 1.9, 2], "format": "d", "labelExpr": "datum.value == 0 || datum.value == 1 || datum.value == 2 ? datum.label : ''", "labelAngle": -90, "labelFontSize": 7, "labelFontWeight": "normal", "labelColor": "#333333", "labelPadding": 2, "title": "bits", "titleFontSize": 7, "titleFontWeight": "normal", "titleColor": "#333333", "titlePadding": 2, "tickSize": {"condition": {"test": "datum.value == 0 || datum.value == 1 || datum.value == 2", "value": 4}, "value": 2}, "tickWidth": 0.8, "domainWidth": 0.8, "domainColor": "#555555", "tickColor": "#555555"}},
         "text": {"field": "ch"},
         "size": {"field": "h", "type": "quantitative", "scale": {"domain": [0, 2], "range": [0, 44]}, "legend": null},
         "color": {"field": "ch", "type": "nominal", "scale": {"domain": ["A", "C", "G", "U"], "range": ["#f89f4e", "#555555", "#f47b7b", "#5e93cf"]}, "legend": null}
        }
       }
      ], "spacing": 0},
     {"vconcat": [
       {"data": {"values": [{}]}, "mark": {"type": "rect", "opacity": 0}, "encoding": {"x": {"value": 0}, "x2": {"value": "width"}, "y": {"value": 0}, "y2": {"value": "height"}}, "width": 1, "height": 7},
       {
        "width": 102, "height": 102,
        "data": {"name": "pie"},
        "transform": [{"filter": "datum.m == 'F1'"}],
        "mark": {"type": "arc", "outerRadius": 50, "stroke": "black", "strokeWidth": 1},
        "encoding": {
         "theta": {"field": "v", "type": "quantitative"},
         "order": {"field": "o", "type": "quantitative"},
         "color": {"field": "r", "type": "nominal", "scale": {"domain": ["3'UTR", "CDS", "5'UTR"], "range": ["#5f93cd", "#f7a35c", "#555555"]}, "legend": {"title": null, "orient": "right", "offset": 8, "symbolType": "square", "symbolSize": 100, "symbolStrokeColor": "black", "symbolStrokeWidth": 1, "labelFontSize": 10, "rowPadding": 1, "padding": 3}}
        }
       }
      ], "spacing": 0}
    ],
    "spacing": 24,
    "resolve": {"scale": {"color": "independent", "size": "independent", "strokeDash": "independent"}, "legend": {"color": "independent", "size": "independent", "strokeDash": "independent"}}
   },
   {"data": {"values": [{}]}, "mark": {"type": "rect", "opacity": 0}, "encoding": {"x": {"value": 0}, "x2": {"value": "width"}, "y": {"value": 0}, "y2": {"value": "height"}}, "width": 1, "height": 1},
   {
    "hconcat": [
     {"vconcat": [
       {"data": {"values": [{}]}, "mark": {"type": "rect", "opacity": 0}, "encoding": {"x": {"value": 0}, "x2": {"value": "width"}, "y": {"value": 0}, "y2": {"value": "height"}}, "width": 1, "height": 7.5},
       {
        "title": {"text": "E-value = 2.0e-140", "fontSize": 12.5, "offset": 5},
        "width": 141, "height": 45,
        "data": {"name": "logo"},
        "transform": [{"filter": "datum.m == 'F2'"}],
        "mark": {"type": "text", "font": "Liberation Sans Narrow", "fontWeight": "bold", "baseline": "alphabetic", "align": "center"},
        "encoding": {
         "x": {"field": "pos", "type": "quantitative", "scale": {"domain": [0.19, 7.62], "nice": false, "zero": false}, "axis": {"values": [1, 2, 3, 4, 5, 6, 7], "format": "d", "title": "position", "titleFontSize": 7.5, "titleFontWeight": "normal", "titleColor": "#333333", "titlePadding": 1, "labelFontSize": 7, "labelFontWeight": "normal", "labelColor": "#333333", "labelPadding": 2, "tickSize": 3, "tickWidth": 0.8, "domainWidth": 0.8, "domainColor": "#555555", "tickColor": "#555555", "offset": 4}},
         "y": {"field": "base", "type": "quantitative", "scale": {"domain": [0, 2], "nice": false}, "axis": {"values": [0, 0.1, 0.2, 0.3, 0.4, 0.5, 0.6, 0.7, 0.8, 0.9, 1, 1.1, 1.2, 1.3, 1.4, 1.5, 1.6, 1.7, 1.8, 1.9, 2], "format": "d", "labelExpr": "datum.value == 0 || datum.value == 1 || datum.value == 2 ? datum.label : ''", "labelAngle": -90, "labelFontSize": 7, "labelFontWeight": "normal", "labelColor": "#333333", "labelPadding": 2, "title": "bits", "titleFontSize": 7, "titleFontWeight": "normal", "titleColor": "#333333", "titlePadding": 2, "tickSize": {"condition": {"test": "datum.value == 0 || datum.value == 1 || datum.value == 2", "value": 4}, "value": 2}, "tickWidth": 0.8, "domainWidth": 0.8, "domainColor": "#555555", "tickColor": "#555555"}},
         "text": {"field": "ch"},
         "size": {"field": "h", "type": "quantitative", "scale": {"domain": [0, 2], "range": [0, 40]}, "legend": null},
         "color": {"field": "ch", "type": "nominal", "scale": {"domain": ["A", "C", "G", "U"], "range": ["#f89f4e", "#555555", "#f47b7b", "#5e93cf"]}, "legend": null}
        }
       }
      ], "spacing": 0},
     {"vconcat": [
       {"data": {"values": [{}]}, "mark": {"type": "rect", "opacity": 0}, "encoding": {"x": {"value": 0}, "x2": {"value": "width"}, "y": {"value": 0}, "y2": {"value": "height"}}, "width": 1, "height": 5},
       {
        "width": 102, "height": 102,
        "data": {"name": "pie"},
        "transform": [{"filter": "datum.m == 'F2'"}],
        "mark": {"type": "arc", "outerRadius": 50, "stroke": "black", "strokeWidth": 1},
        "encoding": {
         "theta": {"field": "v", "type": "quantitative"},
         "order": {"field": "o", "type": "quantitative"},
         "color": {"field": "r", "type": "nominal", "scale": {"domain": ["3'UTR", "CDS", "5'UTR"], "range": ["#5f93cd", "#f7a35c", "#555555"]}, "legend": {"title": null, "orient": "right", "offset": 8, "symbolType": "square", "symbolSize": 100, "symbolStrokeColor": "black", "symbolStrokeWidth": 1, "labelFontSize": 10, "rowPadding": 1, "padding": 3}}
        }
       }
      ], "spacing": 0}
    ],
    "spacing": 24,
    "resolve": {"scale": {"color": "independent", "size": "independent", "strokeDash": "independent"}, "legend": {"color": "independent", "size": "independent", "strokeDash": "independent"}}
   },
   {"data": {"values": [{}]}, "mark": {"type": "rect", "opacity": 0}, "encoding": {"x": {"value": 0}, "x2": {"value": "width"}, "y": {"value": 0}, "y2": {"value": "height"}}, "width": 1, "height": 9},
   {
    "hconcat": [
     {"vconcat": [
       {"data": {"values": [{}]}, "mark": {"type": "rect", "opacity": 0}, "encoding": {"x": {"value": 0}, "x2": {"value": "width"}, "y": {"value": 0}, "y2": {"value": "height"}}, "width": 1, "height": 5},
       {
        "title": {"text": "E-value = 3.5e-103", "fontSize": 12.5, "offset": 6},
        "width": 141, "height": 45,
        "data": {"name": "logo"},
        "transform": [{"filter": "datum.m == 'F3'"}],
        "mark": {"type": "text", "font": "Liberation Sans Narrow", "fontWeight": "bold", "baseline": "alphabetic", "align": "center"},
        "encoding": {
         "x": {"field": "pos", "type": "quantitative", "scale": {"domain": [0.19, 7.62], "nice": false, "zero": false}, "axis": {"values": [1, 2, 3, 4, 5, 6, 7], "format": "d", "title": "position", "titleFontSize": 7.5, "titleFontWeight": "normal", "titleColor": "#333333", "titlePadding": 1, "labelFontSize": 7, "labelFontWeight": "normal", "labelColor": "#333333", "labelPadding": 2, "tickSize": 3, "tickWidth": 0.8, "domainWidth": 0.8, "domainColor": "#555555", "tickColor": "#555555", "offset": 4}},
         "y": {"field": "base", "type": "quantitative", "scale": {"domain": [0, 2], "nice": false}, "axis": {"values": [0, 0.1, 0.2, 0.3, 0.4, 0.5, 0.6, 0.7, 0.8, 0.9, 1, 1.1, 1.2, 1.3, 1.4, 1.5, 1.6, 1.7, 1.8, 1.9, 2], "format": "d", "labelExpr": "datum.value == 0 || datum.value == 1 || datum.value == 2 ? datum.label : ''", "labelAngle": -90, "labelFontSize": 7, "labelFontWeight": "normal", "labelColor": "#333333", "labelPadding": 2, "title": "bits", "titleFontSize": 7, "titleFontWeight": "normal", "titleColor": "#333333", "titlePadding": 2, "tickSize": {"condition": {"test": "datum.value == 0 || datum.value == 1 || datum.value == 2", "value": 4}, "value": 2}, "tickWidth": 0.8, "domainWidth": 0.8, "domainColor": "#555555", "tickColor": "#555555"}},
         "text": {"field": "ch"},
         "size": {"field": "h", "type": "quantitative", "scale": {"domain": [0, 2], "range": [0, 40]}, "legend": null},
         "color": {"field": "ch", "type": "nominal", "scale": {"domain": ["A", "C", "G", "U"], "range": ["#f89f4e", "#555555", "#f47b7b", "#5e93cf"]}, "legend": null}
        }
       }
      ], "spacing": 0},
     {
      "width": 102, "height": 102,
      "data": {"name": "pie"},
      "transform": [{"filter": "datum.m == 'F3'"}],
      "mark": {"type": "arc", "outerRadius": 50, "stroke": "black", "strokeWidth": 1},
      "encoding": {
       "theta": {"field": "v", "type": "quantitative"},
       "order": {"field": "o", "type": "quantitative"},
       "color": {"field": "r", "type": "nominal", "scale": {"domain": ["3'UTR", "CDS", "5'UTR"], "range": ["#5f93cd", "#f7a35c", "#555555"]}, "legend": {"title": null, "orient": "right", "offset": 8, "symbolType": "square", "symbolSize": 100, "symbolStrokeColor": "black", "symbolStrokeWidth": 1, "labelFontSize": 10, "rowPadding": 1, "padding": 3}}
      }
     }
    ],
    "spacing": 24,
    "resolve": {"scale": {"color": "independent", "size": "independent", "strokeDash": "independent"}, "legend": {"color": "independent", "size": "independent", "strokeDash": "independent"}}
   },
   {"data": {"values": [{}]}, "mark": {"type": "rect", "opacity": 0}, "encoding": {"x": {"value": 0}, "x2": {"value": "width"}, "y": {"value": 0}, "y2": {"value": "height"}}, "width": 1, "height": 16},
   {
    "title": {"text": "G", "anchor": "start", "frame": "bounds", "fontSize": 14, "offset": -33, "dx": -18},
    "hconcat": [
     {"vconcat": [
       {"data": {"values": [{}]}, "mark": {"type": "rect", "opacity": 0}, "encoding": {"x": {"value": 0}, "x2": {"value": "width"}, "y": {"value": 0}, "y2": {"value": "height"}}, "width": 1, "height": 10.7},
       {
        "title": {"text": "Dotu et al.", "fontSize": 12.5, "offset": 4},
        "width": 141, "height": 41.4,
        "data": {"name": "logo"},
        "transform": [{"filter": "datum.m == 'G'"}],
        "mark": {"type": "text", "font": "Liberation Sans Narrow", "fontWeight": "bold", "baseline": "alphabetic", "align": "center"},
        "encoding": {
         "x": {"field": "pos", "type": "quantitative", "scale": {"domain": [0.13, 9.8], "nice": false, "zero": false}, "axis": {"values": [1, 2, 3, 4, 5, 6, 7, 8, 9], "format": "d", "title": "position", "titleFontSize": 7.5, "titleFontWeight": "normal", "titleColor": "#333333", "titlePadding": 1, "labelFontSize": 7, "labelFontWeight": "normal", "labelColor": "#333333", "labelPadding": 2, "tickSize": 3, "tickWidth": 0.8, "domainWidth": 0.8, "domainColor": "#555555", "tickColor": "#555555", "offset": 6}},
         "y": {"field": "base", "type": "quantitative", "scale": {"domain": [0, 2], "nice": false}, "axis": {"values": [0, 0.1, 0.2, 0.3, 0.4, 0.5, 0.6, 0.7, 0.8, 0.9, 1, 1.1, 1.2, 1.3, 1.4, 1.5, 1.6, 1.7, 1.8, 1.9, 2], "format": "d", "labelExpr": "datum.value == 0 || datum.value == 1 || datum.value == 2 ? datum.label : ''", "labelAngle": -90, "labelFontSize": 7, "labelFontWeight": "normal", "labelColor": "#333333", "labelPadding": 2, "title": "bits", "titleFontSize": 7, "titleFontWeight": "normal", "titleColor": "#333333", "titlePadding": 2, "tickSize": {"condition": {"test": "datum.value == 0 || datum.value == 1 || datum.value == 2", "value": 4}, "value": 2}, "tickWidth": 0.8, "domainWidth": 0.8, "domainColor": "#555555", "tickColor": "#555555"}},
         "text": {"field": "ch"},
         "size": {"field": "h", "type": "quantitative", "scale": {"domain": [0, 2], "range": [0, 28]}, "legend": null},
         "color": {"field": "ch", "type": "nominal", "scale": {"domain": ["A", "C", "G", "U"], "range": ["#f89f4e", "#555555", "#f47b7b", "#5e93cf"]}, "legend": null}
        }
       }
      ], "spacing": 0},
     {
      "width": 102, "height": 102,
      "data": {"name": "pie"},
      "transform": [{"filter": "datum.m == 'G'"}],
      "mark": {"type": "arc", "outerRadius": 50, "stroke": "black", "strokeWidth": 1},
      "encoding": {
       "theta": {"field": "v", "type": "quantitative"},
       "order": {"field": "o", "type": "quantitative"},
       "color": {"field": "r", "type": "nominal", "scale": {"domain": ["3'UTR", "CDS", "5'UTR"], "range": ["#5f93cd", "#f7a35c", "#555555"]}, "legend": {"title": null, "orient": "right", "offset": 8, "symbolType": "square", "symbolSize": 100, "symbolStrokeColor": "black", "symbolStrokeWidth": 1, "labelFontSize": 10, "rowPadding": 1, "padding": 3}}
      }
     }
    ],
    "spacing": 24,
    "resolve": {"scale": {"color": "independent", "size": "independent", "strokeDash": "independent"}, "legend": {"color": "independent", "size": "independent", "strokeDash": "independent"}}
   }
  ],
  "spacing": 0,
  "resolve": {"scale": {"color": "independent", "size": "independent", "strokeDash": "independent"}, "legend": {"color": "independent", "size": "independent", "strokeDash": "independent"}}
 }
],
"spacing": 0,
"resolve": {"scale": {"color": "independent", "size": "independent", "strokeDash": "independent"}, "legend": {"color": "independent", "size": "independent", "strokeDash": "independent"}}
}
